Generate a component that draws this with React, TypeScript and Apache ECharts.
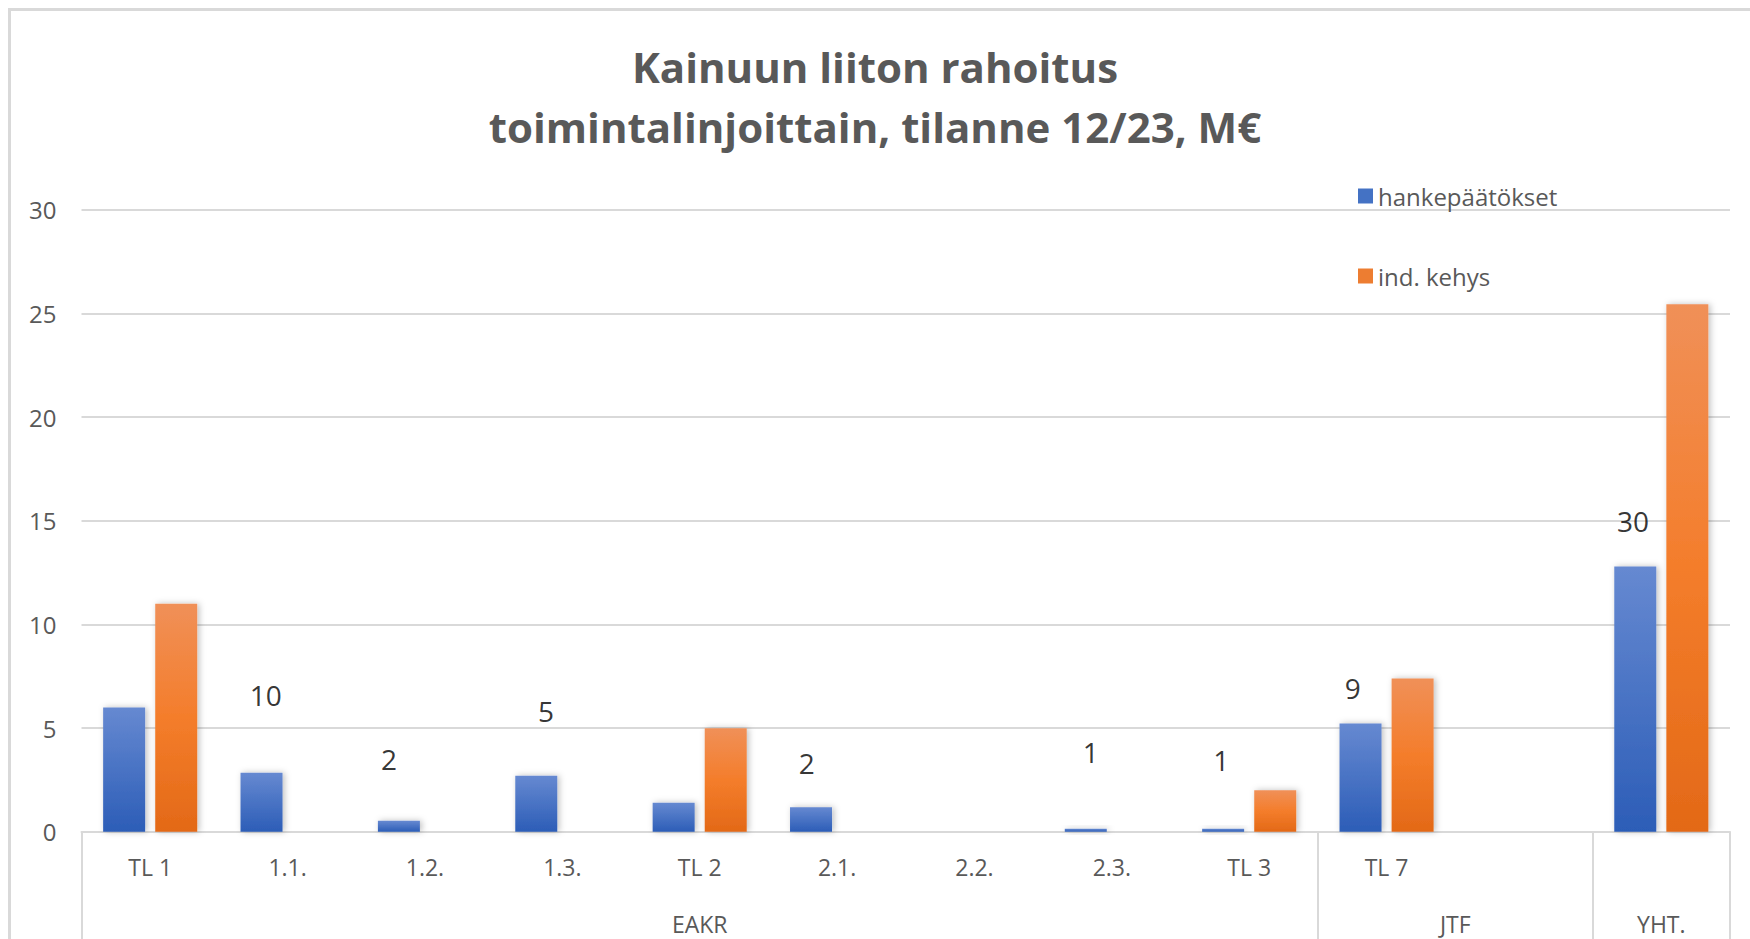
import React, { useEffect, useRef } from "react";
import * as echarts from "echarts";

const titleLines = ["Kainuun liiton rahoitus", "toimintalinjoittain, tilanne 12/23, M€"];
const categories = ["TL 1", "1.1.", "1.2.", "1.3.", "TL 2", "2.1.", "2.2.", "2.3.", "TL 3", "TL 7", "", " "];
const groupNames = ["EAKR", "JTF", "YHT."];
const groupSpans = [9, 2, 1];
const seriesNames = ["hankepäätökset", "ind. kehys"];
const hankepaatokset = [6.0, 2.85, 0.53, 2.7, 1.4, 1.19, 0, 0.15, 0.15, 5.22, null, 12.8];
const indKehys = [11.0, null, null, null, 5.0, null, null, null, 2.0, 7.4, null, 25.45];
// project counts shown as free-floating labels (x in category-slot units, y in axis units)
const countLabels = [10, 2, 5, 2, 1, 1, 9, 30];
const countLabelX = [1.341, 2.239, 3.381, 5.28, 7.346, 8.296, 9.253, 11.294];
const countLabelY = [6.6, 3.53, 5.84, 3.33, 3.86, 3.48, 6.93, 15.0];
const yTicks = { min: 0, max: 30, interval: 5 };

const FONT = "'Open Sans', 'Noto Sans', sans-serif";
const GRAY = "#595959";
const LINE = "#D9D9D9";

export default function App() {
  const ref = useRef<HTMLDivElement>(null);
  useEffect(() => {
    if (!ref.current) return;
    const chart = echarts.init(ref.current, undefined, { renderer: "svg" });

    const bounds: number[] = [0];
    groupSpans.forEach((s) => bounds.push(bounds[bounds.length - 1] + s));
    const groupCenters = groupSpans.map((s, i) => bounds[i] + s / 2);

    const blueGrad = new echarts.graphic.LinearGradient(0, 0, 0, 1, [
      { offset: 0, color: "#6689D1" },
      { offset: 1, color: "#2C5DB7" },
    ]);
    const orangeGrad = new echarts.graphic.LinearGradient(0, 0, 0, 1, [
      { offset: 0, color: "#F09058" },
      { offset: 0.5, color: "#F47D2B" },
      { offset: 1, color: "#E36917" },
    ]);
    const shadow = {
      shadowBlur: 6,
      shadowColor: "rgba(0,0,0,0.25)",
      shadowOffsetX: 2,
      shadowOffsetY: 0,
    };

    const labelData = countLabels.map((c, i) => ({
      value: [countLabelX[i], countLabelY[i]],
      count: c,
    }));

    chart.setOption({
      animation: false,
      backgroundColor: "#ffffff",
      textStyle: { fontFamily: FONT },
      title: {
        text: titleLines.join("\n"),
        left: "center",
        top: 31,
        textStyle: {
          fontFamily: FONT,
          fontSize: 42,
          fontWeight: "bold",
          color: GRAY,
          lineHeight: 60,
        },
      },
      legend: {
        orient: "vertical",
        left: 1353,
        top: 179,
        itemWidth: 15,
        itemHeight: 15,
        itemGap: 56,
        icon: "rect",
        textStyle: { fontFamily: FONT, fontSize: 24, color: GRAY },
        data: [
          { name: seriesNames[0], itemStyle: { color: "#4472C4" } },
          { name: seriesNames[1], itemStyle: { color: "#ED7D31" } },
        ],
      },
      graphic: [
        {
          type: "rect",
          shape: { x: 9.5, y: 9.5, width: 1800, height: 1000 },
          style: { fill: "none", stroke: LINE, lineWidth: 3 },
          silent: true,
        },
      ],
      grid: { left: 81.5, right: 20, top: 209.9, bottom: 107.2, containLabel: false },
      xAxis: [
        {
          type: "category",
          data: categories,
          position: "bottom",
          axisLine: { show: true, lineStyle: { color: LINE, width: 2 } },
          axisTick: { show: false },
          axisLabel: {
            interval: 0,
            margin: 24,
            fontFamily: FONT,
            fontSize: 23,
            color: GRAY,
          },
          splitLine: { show: false },
        },
        {
          type: "value",
          min: 0,
          max: bounds[bounds.length - 1],
          position: "bottom",
          axisLine: { show: false },
          splitLine: { show: false },
          axisTick: {
            show: true,
            customValues: bounds,
            length: 120,
            lineStyle: { color: LINE, width: 2 },
          },
          axisLabel: {
            show: true,
            customValues: groupCenters,
            margin: 81,
            fontFamily: FONT,
            fontSize: 23,
            color: GRAY,
            formatter: (v: number) => {
              const idx = groupCenters.findIndex((c) => Math.abs(c - v) < 1e-6);
              return idx >= 0 ? groupNames[idx] : "";
            },
          },
        },
      ],
      yAxis: {
        type: "value",
        min: yTicks.min,
        max: yTicks.max,
        interval: yTicks.interval,
        axisLine: { show: false },
        axisTick: { show: false },
        axisLabel: { margin: 25, fontFamily: FONT, fontSize: 24, color: GRAY },
        splitLine: { show: true, lineStyle: { color: LINE, width: 2 } },
      },
      series: [
        {
          name: seriesNames[0],
          type: "bar",
          xAxisIndex: 0,
          data: hankepaatokset,
          barWidth: 42,
          barGap: "24%",
          itemStyle: { color: blueGrad, ...shadow },
        },
        {
          name: seriesNames[1],
          type: "bar",
          xAxisIndex: 0,
          data: indKehys,
          barWidth: 42,
          barGap: "24%",
          itemStyle: { color: orangeGrad, ...shadow },
        },
        {
          name: "counts",
          type: "scatter",
          xAxisIndex: 1,
          data: labelData,
          symbolSize: 1,
          itemStyle: { color: "rgba(0,0,0,0)" },
          label: {
            show: true,
            position: "inside",
            fontFamily: FONT,
            fontSize: 28,
            color: "#000000",
            formatter: (p: any) => String(p.data.count),
          },
          z: 5,
        },
      ],
    });

    return () => chart.dispose();
  }, []);

  return (
    <div
      ref={ref}
      style={{ position: "absolute", left: 0, top: 0, width: 1750, height: 939 }}
    />
  );
}
